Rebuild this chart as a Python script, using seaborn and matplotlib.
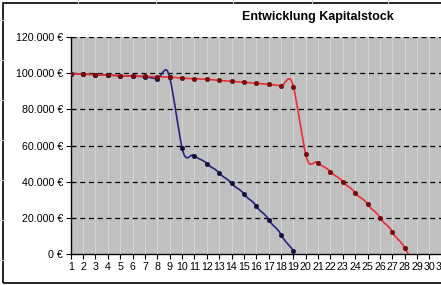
import numpy as np
import pandas as pd
import matplotlib
matplotlib.use("Agg")
import matplotlib.pyplot as plt
from matplotlib.path import Path
from matplotlib.patches import PathPatch, Rectangle
from matplotlib.lines import Line2D
import seaborn as sns

# ---- data ----
title = "Entwicklung Kapitalstock"
blue_years = list(range(1, 20))
blue_values = [99800, 99500, 99200, 98900, 98600, 98300, 98000, 97000, 97800,
               58800, 54400, 50000, 44800, 39100, 33200, 26500, 19000, 10700, 1700]
red_years = list(range(1, 30))
red_values = [99800, 99500, 99200, 98900, 98600, 98400, 98200, 98000, 97800,
              97300, 96900, 96600, 96000, 95500, 94900, 94400, 93800, 93100, 92600,
              55100, 50500, 45500, 40000, 33900, 27500, 20100, 12200, 3300, -6000]
x_ticks = list(range(1, 32))
y_ticks = [0, 20000, 40000, 60000, 80000, 100000, 120000]
y_tick_labels = ["0 €", "20.000 €", "40.000 €", "60.000 €", "80.000 €", "100.000 €", "120.000 €"]

W, H = 441, 285
sns.set_theme(style="white")
plt.rcParams['font.family'] = ['Liberation Sans', 'DejaVu Sans']

fig = plt.figure(figsize=(W / 100, H / 100), dpi=100)
fig.patch.set_facecolor("white")

# spreadsheet cell lines behind chart
for xv in [78, 156, 233, 312, 388]:
    fig.add_artist(Line2D([xv / W, xv / W], [1, 1 - 3 / H], color="#d0d0d0", lw=0.8))
for yv in [20, 60, 100, 140, 180, 220, 260]:
    fig.add_artist(Line2D([0, 3 / W], [1 - yv / H, 1 - yv / H], color="#d0d0d0", lw=0.8))

# chart border
fig.add_artist(Rectangle((3 / W, 1 - 283 / H), 1.2, (283 - 3) / H, transform=fig.transFigure,
                         fill=False, edgecolor="black", lw=1.2))

step = 12.37
x0 = 70.7
left = x0 / W
bottom = 1 - 254 / H
height = (254 - 37) / H
xmax = 33
width = (xmax - 1) * step / W
ax = fig.add_axes([left, bottom, width, height])
ax.set_facecolor("#c0c0c0")
ax.set_xlim(1, xmax)
ax.set_ylim(0, 120000)

for xv in x_ticks:
    ax.axvline(xv, color="#d4d4d4", lw=0.7, zorder=0.5)
for yv in y_ticks[1:]:
    ax.axhline(yv, color="black", lw=0.9, ls=(0, (4, 3)), zorder=1)


def smooth_path(xs, ys, f=0.25):
    xs = np.asarray(xs, float)
    ys = np.asarray(ys, float)
    n = len(xs)
    verts = [(xs[0], ys[0])]
    codes = [Path.MOVETO]
    for i in range(n - 1):
        im1 = max(i - 1, 0)
        ip2 = min(i + 2, n - 1)
        c1 = (xs[i] + (xs[i + 1] - xs[im1]) * f / 2 * (2 / 2), ys[i] + (ys[i + 1] - ys[im1]) * f)
        c1 = (xs[i] + (xs[i + 1] - xs[im1]) / 6, c1[1])
        c2 = (xs[i + 1] - (xs[ip2] - xs[i]) / 6, ys[i + 1] - (ys[ip2] - ys[i]) * f)
        verts += [c1, c2, (xs[i + 1], ys[i + 1])]
        codes += [Path.CURVE4] * 3
    return Path(verts, codes)


blue_line = "#232380"
red_line = "#ec2d35"
ax.add_patch(PathPatch(smooth_path(blue_years, blue_values), fill=False,
                       edgecolor=blue_line, lw=1.2, zorder=3))
ax.add_patch(PathPatch(smooth_path(red_years, red_values), fill=False,
                       edgecolor=red_line, lw=1.2, zorder=4))

df_b = pd.DataFrame({"Jahr": blue_years, "Kapital": blue_values})
df_r = pd.DataFrame({"Jahr": red_years, "Kapital": red_values})
sns.scatterplot(data=df_b, x="Jahr", y="Kapital", ax=ax, color="#10103a", s=11,
                marker="o", edgecolor="#10103a", linewidth=0.3, zorder=5)
sns.scatterplot(data=df_r, x="Jahr", y="Kapital", ax=ax, color="#7a0c0c", s=11,
                marker="o", edgecolor="#5a0000", linewidth=0.3, zorder=6)

ax.set_xlabel("")
ax.set_ylabel("")
ax.set_xticks(x_ticks)
ax.set_xticklabels([str(v) for v in x_ticks])
ax.set_yticks(y_ticks)
ax.set_yticklabels(y_tick_labels)
for s in ["top", "right"]:
    ax.spines[s].set_visible(False)
for s in ["left", "bottom"]:
    ax.spines[s].set_color("black")
    ax.spines[s].set_linewidth(1.0)
ax.tick_params(axis="both", direction="out", length=3.6, width=0.8, color="black",
               labelsize=7.7, labelcolor="black", pad=2, bottom=True, left=True)

fig.text(318 / W, 1 - 17 / H, title, ha="center", va="center", fontsize=9,
         fontweight="bold", color="black")

fig.savefig("out.png", dpi=100)
